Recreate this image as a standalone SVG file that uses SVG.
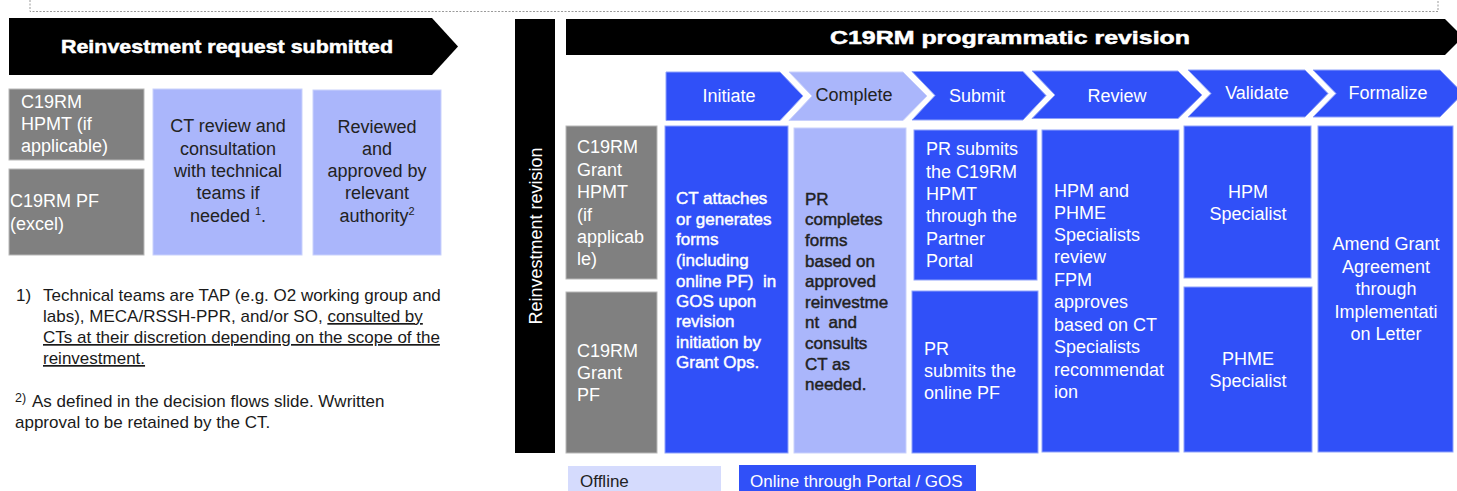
<svg xmlns="http://www.w3.org/2000/svg" width="1457" height="491" viewBox="0 0 1457 491">
<style>
  text { font-family: "Liberation Sans", Arial, sans-serif; }
  .blue { fill: #3050f8; stroke: #8fa2fb; stroke-width: 1; }
  .lblue { fill: #aab6fb; stroke: #c9d1fc; stroke-width: 1; }
  .grey { fill: #808080; stroke: #b8b8b8; stroke-width: 1; }
  .blk { fill: #000; }
  .t18w { font-size: 18px; fill: #fff; }
  .t18d { font-size: 18px; fill: #222; }
  .b16w { font-size: 17px; fill: #fff; stroke: #fff; stroke-width: 0.45; white-space: pre; }
  .b16d { font-size: 17px; fill: #222; stroke: #222; stroke-width: 0.45; white-space: pre; }
  .fn { font-size: 17px; fill: #1a1a1a; }
  .sm { font-size: 11px; }
  .fsm { font-size: 12.5px; }
  .lg { font-size: 17px; }
  .hdr { font-size: 19px; font-weight: bold; fill: #fff; stroke: #fff; stroke-width: 0.5; }
  .mid { text-anchor: middle; }
  .u { text-decoration: underline; }
</style>

<g id="frame">
  <path d="M30 0 V11.5 H1438 V0" fill="none" stroke="#9a9a9a" stroke-width="1" stroke-dasharray="2 1.5"/>
</g>

<g id="reinvestment-request-submitted">
  <polygon class="blk" points="9,18 432,18 458,46.5 432,75 9,75"/>
  <text class="hdr mid" x="227" y="53" textLength="332" lengthAdjust="spacingAndGlyphs">Reinvestment request submitted</text>
</g>

<g id="left-hpmt">
  <rect class="grey" x="9" y="89" width="135" height="71"/>
  <text class="t18w" x="21" y="108">C19RM</text>
  <text class="t18w" x="21" y="130">HPMT (if</text>
  <text class="t18w" x="21" y="152">applicable)</text>
</g>
<g id="left-pf">
  <rect class="grey" x="9" y="169" width="135" height="86"/>
  <text class="t18w" x="10" y="207">C19RM PF</text>
  <text class="t18w" x="10" y="230">(excel)</text>
</g>
<g id="ct-review">
  <rect class="lblue" x="153" y="89" width="149" height="166"/>
  <text class="t18d mid" x="228" y="132">CT review and</text>
  <text class="t18d mid" x="228" y="155">consultation</text>
  <text class="t18d mid" x="228" y="177">with technical</text>
  <text class="t18d mid" x="228" y="199">teams if</text>
  <text class="t18d mid" x="228" y="222">needed <tspan class="sm" dy="-7">1</tspan><tspan dy="7">.</tspan></text>
</g>
<g id="reviewed-approved">
  <rect class="lblue" x="313" y="90" width="128" height="165"/>
  <text class="t18d mid" x="377" y="133">Reviewed</text>
  <text class="t18d mid" x="377" y="155">and</text>
  <text class="t18d mid" x="377" y="177">approved by</text>
  <text class="t18d mid" x="377" y="199">relevant</text>
  <text class="t18d mid" x="377" y="222">authority<tspan class="sm" dy="-7">2</tspan></text>
</g>

<g id="footnotes">
  <text class="fn" x="16" y="301">1)</text>
  <text class="fn" x="43" y="301">Technical teams are TAP (e.g. O2 working group and</text>
  <text class="fn" x="43" y="322" xml:space="preserve">labs), MECA/RSSH-PPR, and/or SO, <tspan class="u">consulted by</tspan></text>
  <text class="fn u" x="43" y="343">CTs at their discretion depending on the scope of the</text>
  <text class="fn u" x="43" y="364">reinvestment.</text>
  <text class="fn fsm" x="15" y="402">2)</text>
  <text class="fn" x="32" y="407">As defined in the decision flows slide. Wwritten</text>
  <text class="fn" x="15" y="428">approval to be retained by the CT.</text>
</g>

<g id="reinvestment-revision">
  <rect class="blk" x="515" y="19" width="40" height="434"/>
  <text class="t18w mid" transform="translate(542 236) rotate(-90)">Reinvestment revision</text>
</g>

<g id="c19rm-programmatic-revision">
  <polygon class="blk" points="566,19 1445,19 1463,37 1445,55 566,55"/>
  <text class="hdr mid" x="1010" y="44" textLength="360" lengthAdjust="spacingAndGlyphs">C19RM programmatic revision</text>
</g>

<g id="step-initiate">
  <polygon class="blue" points="666,72 780,72 803,96 780,120.5 666,120.5"/>
  <text class="t18w mid" x="729" y="102">Initiate</text>
</g>
<g id="step-complete">
  <polygon class="lblue" points="789,72 903,72 927,96 903,120.5 789,120.5 812,96"/>
  <text class="t18d mid" x="854" y="101">Complete</text>
</g>
<g id="step-submit">
  <polygon class="blue" points="912,71.5 1023,71.5 1046,95.5 1023,120 912,120 935,95.5"/>
  <text class="t18w mid" x="977" y="102">Submit</text>
</g>
<g id="step-review">
  <polygon class="blue" points="1032,71 1178,71 1202,95 1178,118.5 1032,118.5 1055,95"/>
  <text class="t18w mid" x="1117" y="102">Review</text>
</g>
<g id="step-validate">
  <polygon class="blue" points="1188,70 1305,70 1328,93.5 1305,117 1188,117 1211,93.5"/>
  <text class="t18w mid" x="1257" y="99">Validate</text>
</g>
<g id="step-formalize">
  <polygon class="blue" points="1313,70 1440,70 1463,93.5 1440,117 1313,117 1336,93.5"/>
  <text class="t18w mid" x="1388" y="99">Formalize</text>
</g>

<g id="grant-hpmt">
  <rect class="grey" x="566" y="126" width="91" height="153"/>
  <text class="t18w" x="577" y="153">C19RM</text>
  <text class="t18w" x="577" y="175.5">Grant</text>
  <text class="t18w" x="577" y="198">HPMT</text>
  <text class="t18w" x="577" y="220.5">(if</text>
  <text class="t18w" x="577" y="243">applicab</text>
  <text class="t18w" x="577" y="265">le)</text>
</g>
<g id="grant-pf">
  <rect class="grey" x="566" y="292" width="91" height="161"/>
  <text class="t18w" x="577" y="357">C19RM</text>
  <text class="t18w" x="577" y="379">Grant</text>
  <text class="t18w" x="577" y="401">PF</text>
</g>

<g id="ct-attaches">
  <rect class="blue" x="665" y="126" width="123" height="327"/>
  <text class="b16w" x="676" y="204">CT attaches</text>
  <text class="b16w" x="676" y="225">or generates</text>
  <text class="b16w" x="676" y="245">forms</text>
  <text class="b16w" x="676" y="266">(including</text>
  <text class="b16w" x="676" y="287" xml:space="preserve">online PF)  in</text>
  <text class="b16w" x="676" y="307">GOS upon</text>
  <text class="b16w" x="676" y="327">revision</text>
  <text class="b16w" x="676" y="348">initiation by</text>
  <text class="b16w" x="676" y="368">Grant Ops.</text>
</g>
<g id="pr-completes">
  <rect class="lblue" x="794" y="128" width="112" height="325"/>
  <text class="b16d" x="805" y="205">PR</text>
  <text class="b16d" x="805" y="225">completes</text>
  <text class="b16d" x="805" y="246">forms</text>
  <text class="b16d" x="805" y="267">based on</text>
  <text class="b16d" x="805" y="287">approved</text>
  <text class="b16d" x="805" y="308">reinvestme</text>
  <text class="b16d" x="805" y="328" xml:space="preserve">nt  and</text>
  <text class="b16d" x="805" y="349">consults</text>
  <text class="b16d" x="805" y="370">CT as</text>
  <text class="b16d" x="805" y="390">needed.</text>
</g>
<g id="pr-submits-hpmt">
  <rect class="blue" x="914" y="130" width="123" height="150"/>
  <text class="t18w" x="926" y="155">PR submits</text>
  <text class="t18w" x="926" y="178">the C19RM</text>
  <text class="t18w" x="926" y="200">HPMT</text>
  <text class="t18w" x="926" y="222">through the</text>
  <text class="t18w" x="926" y="245">Partner</text>
  <text class="t18w" x="926" y="267">Portal</text>
</g>
<g id="pr-submits-pf">
  <rect class="blue" x="912" y="291" width="126" height="162"/>
  <text class="t18w" x="924" y="355">PR</text>
  <text class="t18w" x="924" y="377">submits the</text>
  <text class="t18w" x="924" y="399">online PF</text>
</g>
<g id="hpm-phme-review">
  <rect class="blue" x="1042" y="130" width="137" height="322"/>
  <text class="t18w" x="1054" y="197">HPM and</text>
  <text class="t18w" x="1054" y="219">PHME</text>
  <text class="t18w" x="1054" y="241">Specialists</text>
  <text class="t18w" x="1054" y="263">review</text>
  <text class="t18w" x="1054" y="286">FPM</text>
  <text class="t18w" x="1054" y="308">approves</text>
  <text class="t18w" x="1054" y="331">based on CT</text>
  <text class="t18w" x="1054" y="353">Specialists</text>
  <text class="t18w" x="1054" y="376">recommendat</text>
  <text class="t18w" x="1054" y="398">ion</text>
</g>
<g id="hpm-specialist">
  <rect class="blue" x="1184" y="126" width="127" height="152"/>
  <text class="t18w mid" x="1248" y="198">HPM</text>
  <text class="t18w mid" x="1248" y="220">Specialist</text>
</g>
<g id="phme-specialist">
  <rect class="blue" x="1184" y="287" width="128" height="165"/>
  <text class="t18w mid" x="1248" y="365">PHME</text>
  <text class="t18w mid" x="1248" y="387">Specialist</text>
</g>
<g id="amend-grant">
  <rect class="blue" x="1318" y="126" width="135" height="326"/>
  <text class="t18w mid" x="1386" y="250">Amend Grant</text>
  <text class="t18w mid" x="1386" y="273">Agreement</text>
  <text class="t18w mid" x="1386" y="295">through</text>
  <text class="t18w mid" x="1386" y="318">Implementati</text>
  <text class="t18w mid" x="1386" y="340">on Letter</text>
</g>

<g id="legend-offline">
  <rect x="568" y="466" width="153" height="30" fill="#d5dbfd"/>
  <text class="t18d lg" x="580" y="487">Offline</text>
</g>
<g id="legend-online">
  <rect x="739" y="465" width="237" height="30" fill="#3050f8"/>
  <text class="t18w lg" x="750" y="487">Online through Portal / GOS</text>
</g>

<g id="connectors"></g>
</svg>
